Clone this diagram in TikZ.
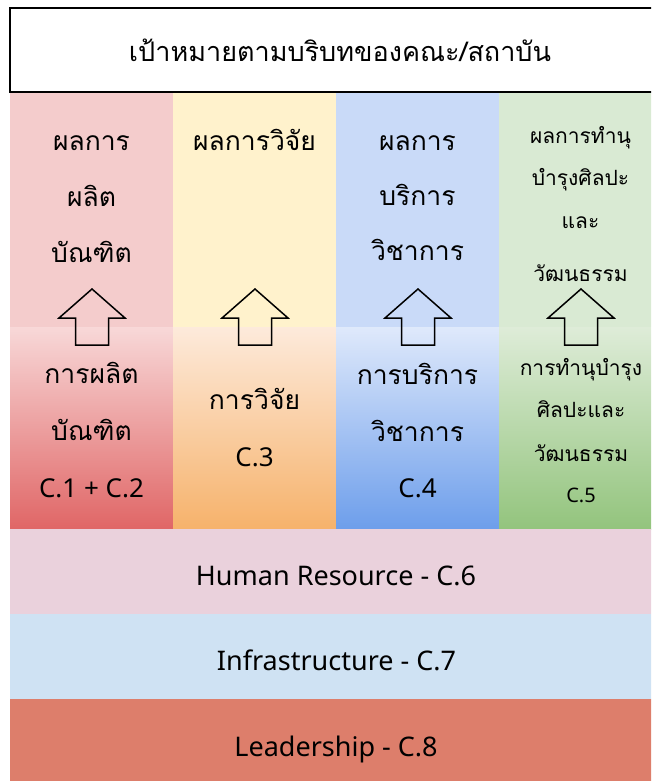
\documentclass[tikz,border=0pt]{standalone}
\usepackage{fontspec}
\setmainfont{Noto Sans}
\newfontfamily\thai[Script=Thai]{Loma}
\definecolor{cAup}{HTML}{F4CCCC}
\definecolor{cAlt}{HTML}{F8D8D8}
\definecolor{cAlb}{HTML}{E06666}
\definecolor{cBup}{HTML}{FFF2CC}
\definecolor{cBlt}{HTML}{FDEADB}
\definecolor{cBlb}{HTML}{F6B26B}
\definecolor{cCup}{HTML}{C9DAF8}
\definecolor{cClt}{HTML}{DFE9FB}
\definecolor{cClb}{HTML}{6D9EEB}
\definecolor{cDup}{HTML}{D9EAD3}
\definecolor{cDlt}{HTML}{DEECD8}
\definecolor{cDlb}{HTML}{93C47D}
\definecolor{cHR}{HTML}{EAD1DC}
\definecolor{cInf}{HTML}{CFE2F3}
\definecolor{cLead}{HTML}{DD7E6B}
\tikzset{
  thbig/.style={font=\thai\fontsize{26.5}{28}\selectfont, inner sep=0pt, anchor=base},
  thsmall/.style={font=\thai\fontsize{21}{23}\selectfont, inner sep=0pt, anchor=base},
  thtitle/.style={font=\thai\fontsize{27}{29}\selectfont, inner sep=0pt, anchor=base},
  latbig/.style={font=\fontsize{26}{28}\selectfont, inner sep=0pt, anchor=base},
  latsmall/.style={font=\fontsize{20}{22}\selectfont, inner sep=0pt, anchor=base},
  latrow/.style={font=\fontsize{27}{29}\selectfont, inner sep=0pt, anchor=base},
  uparrow/.style={draw=black, line width=1.5pt, line join=miter}
}
\newcommand{\myuparrow}[1]{%
  \draw[uparrow] (#1,289) -- (#1+33,318) -- (#1+16.5,318) -- (#1+16.5,345)
    -- (#1-16.5,345) -- (#1-16.5,318) -- (#1-33,318) -- cycle;}
\begin{document}
\begin{tikzpicture}[x=1pt,y=-1pt]
\useasboundingbox (0,0) rectangle (651,781);
\clip (0,0) rectangle (651,781);
\fill[white] (0,0) rectangle (651,781);
% title box
\draw[line width=2pt, fill=white] (10,8) rectangle (672,92);
\node[thtitle] (title) at (340,62) {เป้าหมายตามบริบทของคณะ/สถาบัน};
% columns upper
\fill[cAup] (10,93) rectangle (173,327);
\fill[cBup] (173,93) rectangle (336,327);
\fill[cCup] (336,93) rectangle (499,327);
\fill[cDup] (499,93) rectangle (662,327);
% columns lower (gradient)
\shade[top color=cAlt, bottom color=cAlb] (10,327) rectangle (173,529);
\shade[top color=cBlt, bottom color=cBlb] (173,327) rectangle (336,529);
\shade[top color=cClt, bottom color=cClb] (336,327) rectangle (499,529);
\shade[top color=cDlt, bottom color=cDlb] (499,327) rectangle (662,529);
% rows
\fill[cHR] (10,529) rectangle (662,614);
\fill[cInf] (10,614) rectangle (662,699);
\fill[cLead] (10,699) rectangle (662,781);
% arrows
\myuparrow{92}
\myuparrow{255}
\myuparrow{418}
\myuparrow{581}
% column 1
\node[thbig] (a1) at (91.5,150) {ผลการ};
\node[thbig] (a2) at (91.5,206) {ผลิต};
\node[thbig] (a3) at (91.5,262) {บัณฑิต};
\node[thbig] (a4) at (91.5,383) {การผลิต};
\node[thbig] (a5) at (91.5,440) {บัณฑิต};
\node[latbig] (a6) at (91.5,497) {C.1 + C.2};
% column 2
\node[thbig] (b1) at (254.5,150) {ผลการวิจัย};
\node[thbig] (b2) at (254.5,409) {การวิจัย};
\node[latbig] (b3) at (254.5,466) {C.3};
% column 3
\node[thbig] (c1) at (417.5,150) {ผลการ};
\node[thbig] (c2) at (417.5,205) {บริการ};
\node[thbig] (c3) at (417.5,260) {วิชาการ};
\node[thbig] (c4) at (417.5,384) {การบริการ};
\node[thbig] (c5) at (417.5,441) {วิชาการ};
\node[latbig] (c6) at (417.5,497) {C.4};
% column 4
\node[thsmall] (d1) at (580.5,143) {ผลการทำนุ};
\node[thsmall] (d2) at (580.5,185) {บำรุงศิลปะ};
\node[thsmall] (d3) at (580.5,228) {และ};
\node[thsmall] (d4) at (580.5,281) {วัฒนธรรม};
\node[thsmall] (d5) at (581,375) {การทำนุบำรุง};
\node[thsmall] (d6) at (581,417) {ศิลปะและ};
\node[thsmall] (d7) at (581,461) {วัฒนธรรม};
\node[latsmall] (d8) at (581,502) {C.5};
% rows text
\node[latrow] (hr) at (336,585) {Human Resource - C.6};
\node[latrow] (inf) at (336.5,670) {Infrastructure - C.7};
\node[latrow] (lead) at (336,756) {Leadership - C.8};
\end{tikzpicture}
\end{document}
